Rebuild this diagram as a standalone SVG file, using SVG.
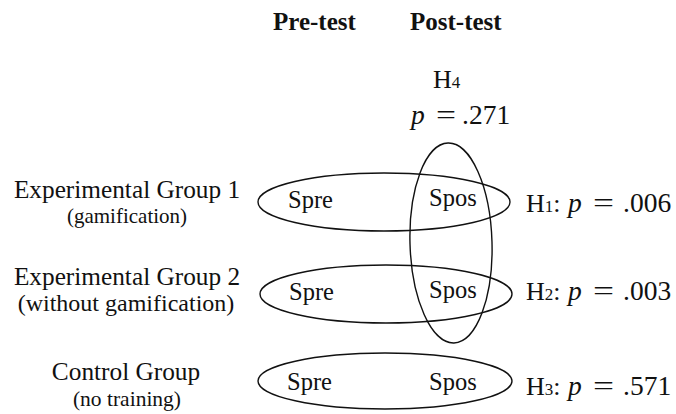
<svg xmlns="http://www.w3.org/2000/svg" width="676" height="414" viewBox="0 0 676 414">
<style>
text { font-family: "Liberation Serif", "Times New Roman", serif; fill: #111; }
.hdr { font-size: 25px; font-weight: bold; }
.lbl { font-size: 25.3px; text-anchor: middle; }
.sub { font-size: 21px; text-anchor: middle; }
.s { font-size: 24.5px; }
.h { font-size: 26px; }
.n { font-size: 27.5px; }
.sm { font-size: 17px; }
.it { font-style: italic; }
.ell { fill: none; stroke: #111; stroke-width: 1.4; }
</style>
<rect width="676" height="414" fill="#fff"/>
<text class="hdr" x="273" y="30">Pre-test</text>
<text class="hdr" x="410" y="30">Post-test</text>

<g id="row1-label">
<text class="lbl" x="127" y="198">Experimental Group 1</text>
<text class="sub" x="127" y="223">(gamification)</text>
</g>
<g id="row2-label">
<text class="lbl" x="127" y="285">Experimental Group 2</text>
<text class="sub" x="126" y="311" style="font-size:24px">(without gamification)</text>
</g>
<g id="row3-label">
<text class="lbl" x="126" y="380">Control Group</text>
<text class="sub" x="127" y="406" style="font-size:21.5px">(no training)</text>
</g>

<g id="row1">
<ellipse class="ell" cx="384" cy="202" rx="126" ry="29"/>
<text class="s" x="288" y="208">Spre</text>
<text class="s" x="429" y="206">Spos</text>
</g>
<g id="row2">
<ellipse class="ell" cx="386" cy="294" rx="126" ry="29"/>
<text class="s" x="289" y="300">Spre</text>
<text class="s" x="429" y="298">Spos</text>
</g>
<g id="row3">
<ellipse class="ell" cx="385" cy="381" rx="127" ry="28"/>
<text class="s" x="287" y="390">Spre</text>
<text class="s" x="429" y="390">Spos</text>
</g>
<g id="posttest">
<ellipse class="ell" cx="451" cy="243" rx="41" ry="100" transform="rotate(-1.7 451 243)"/>
</g>

<g id="h4">
<text class="h" x="433" y="88">H<tspan class="sm">4</tspan></text>
<text class="n it" x="411" y="124">p</text>
<text class="n" x="436" y="124" textLength="20" lengthAdjust="spacingAndGlyphs">=</text>
<text class="n" x="462" y="124">.271</text>
</g>
<g id="h1">
<text class="h" x="526" y="212">H<tspan class="sm">1</tspan>:</text>
<text class="n it" x="568" y="212">p</text>
<text class="n" x="593" y="212" textLength="21" lengthAdjust="spacingAndGlyphs">=</text>
<text class="n" x="623" y="212">.006</text>
</g>
<g id="h2">
<text class="h" x="526" y="300">H<tspan class="sm">2</tspan>:</text>
<text class="n it" x="568" y="300">p</text>
<text class="n" x="593" y="300" textLength="21" lengthAdjust="spacingAndGlyphs">=</text>
<text class="n" x="623" y="300">.003</text>
</g>
<g id="h3">
<text class="h" x="526" y="395">H<tspan class="sm">3</tspan>:</text>
<text class="n it" x="568" y="395">p</text>
<text class="n" x="593" y="395" textLength="21" lengthAdjust="spacingAndGlyphs">=</text>
<text class="n" x="623" y="395">.571</text>
</g>
</svg>
